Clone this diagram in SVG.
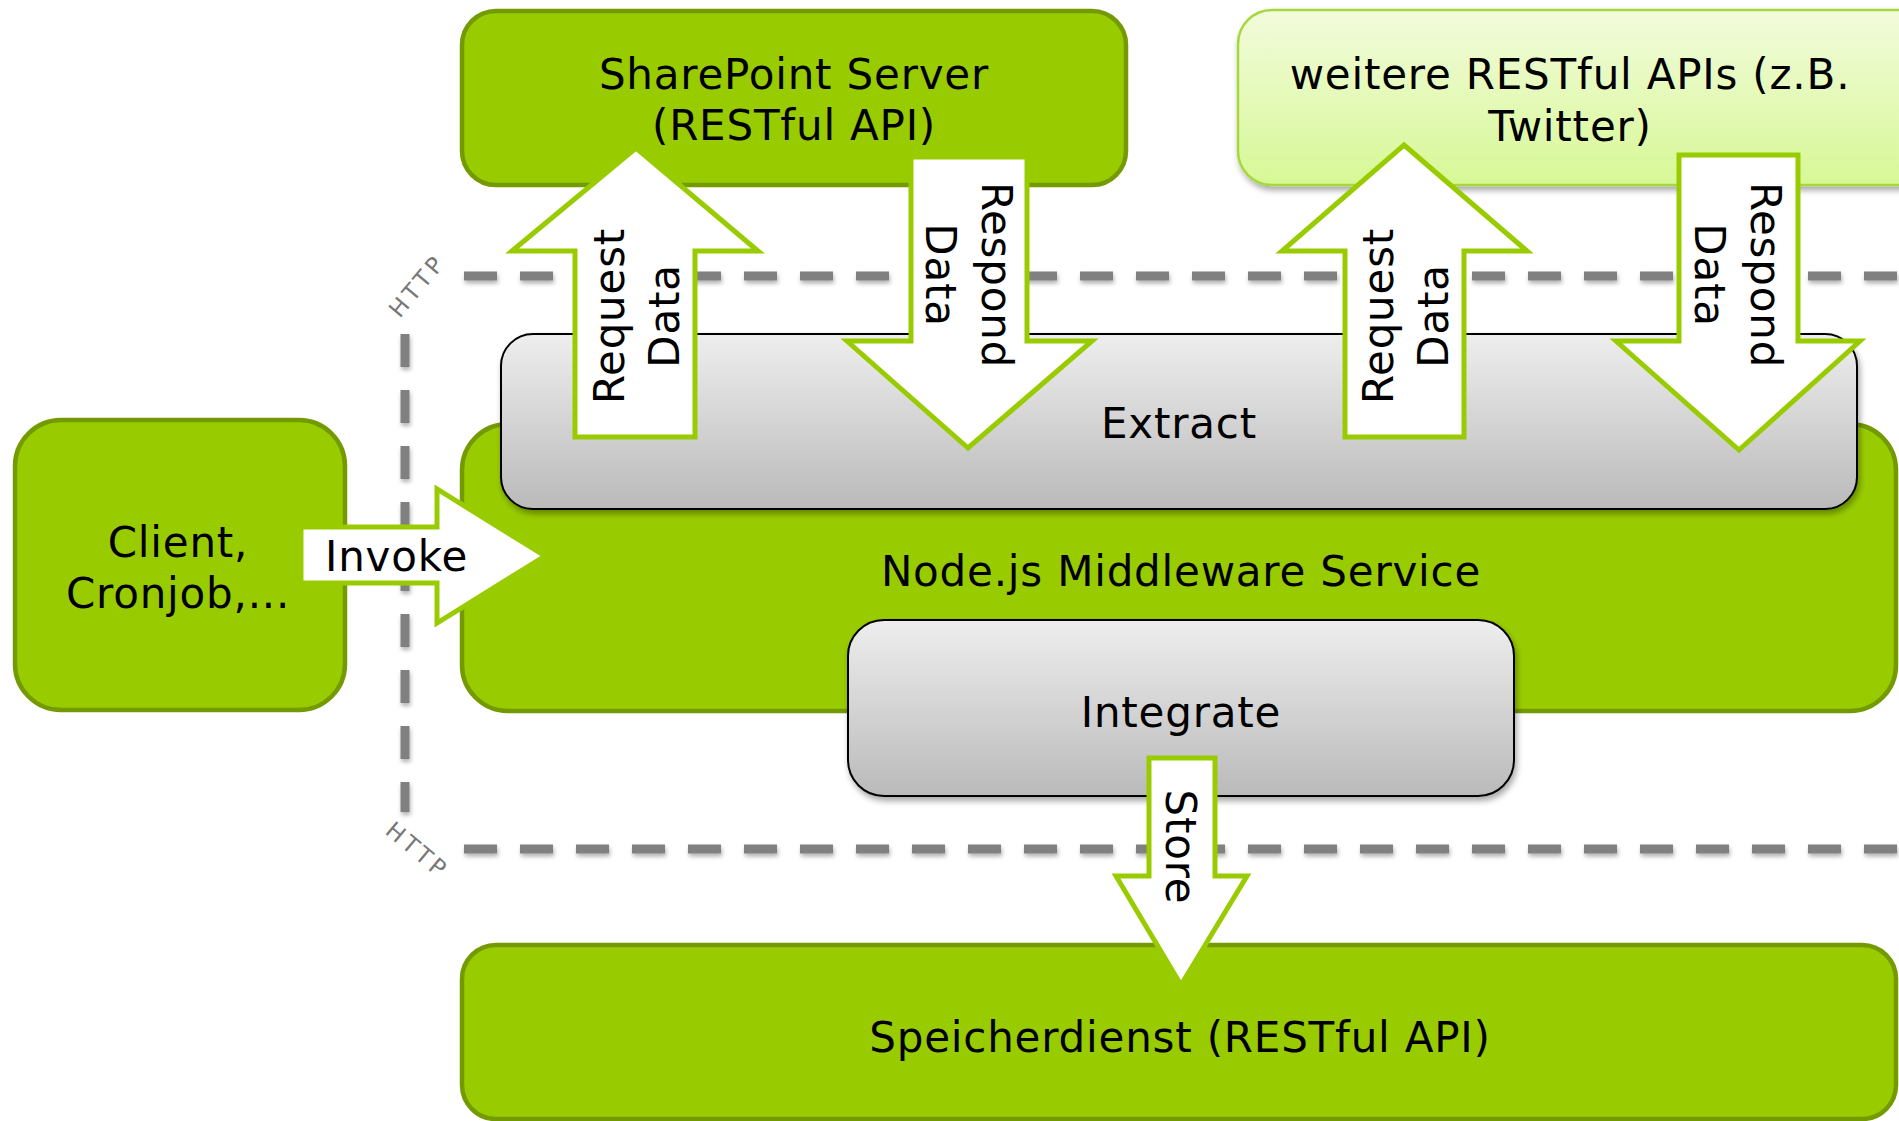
<svg xmlns="http://www.w3.org/2000/svg" width="1899" height="1121" viewBox="0 0 1899 1121">
  <defs>
    <linearGradient id="grayGrad" x1="0" y1="0" x2="0" y2="1">
      <stop offset="0" stop-color="#eeeeee"/>
      <stop offset="1" stop-color="#bababa"/>
    </linearGradient>
    <linearGradient id="lightGrad" x1="0" y1="0" x2="0" y2="1">
      <stop offset="0" stop-color="#f2fbdc"/>
      <stop offset="1" stop-color="#d7f896"/>
    </linearGradient>
    <filter id="shadow" x="-10%" y="-10%" width="130%" height="140%">
      <feDropShadow dx="2" dy="4" stdDeviation="3" flood-color="#000" flood-opacity="0.35"/>
    </filter>
    <filter id="lineShadow" x="-5%" y="-50%" width="110%" height="300%">
      <feDropShadow dx="1" dy="3" stdDeviation="2" flood-color="#000" flood-opacity="0.3"/>
    </filter>
  </defs>
  <style>
    .green { fill: #99cc00; stroke: #739a00; stroke-width: 4.5; }
    .light { fill: url(#lightGrad); stroke: #a6d83c; stroke-width: 2.5; }
    .gray { fill: url(#grayGrad); stroke: #000; stroke-width: 2; }
    .lbl { font-family: "DejaVu Sans", Verdana, sans-serif; font-size: 42px; letter-spacing: 0.8px; fill: #000; text-anchor: middle; }
    .arrow { fill: #ffffff; stroke: #99cc00; stroke-width: 5; stroke-linejoin: miter; }
    .dash { fill: none; stroke: #808080; stroke-width: 9; stroke-dasharray: 33 23; }
    .http { font-family: "DejaVu Sans", Verdana, sans-serif; font-size: 23px; fill: #777777; text-anchor: middle; }
  </style>
  <rect width="1899" height="1121" fill="#ffffff"/>

  <g id="sharepoint">
    <rect class="green" x="462" y="11" width="664" height="174" rx="34"/>
    <text class="lbl" x="794" y="89">SharePoint Server</text>
    <text class="lbl" x="794" y="140">(RESTful API)</text>
  </g>

  <g id="weitere-apis">
    <rect class="light" x="1238" y="10" width="700" height="175" rx="34" filter="url(#shadow)"/>
    <text class="lbl" x="1570" y="89">weitere RESTful APIs (z.B.</text>
    <text class="lbl" x="1570" y="141">Twitter)</text>
  </g>

  <g id="client">
    <rect class="green" x="15" y="420" width="330" height="290" rx="46"/>
    <text class="lbl" x="178" y="557">Client,</text>
    <text class="lbl" x="178" y="608">Cronjob,...</text>
  </g>

  <g id="middleware">
    <rect class="green" x="462" y="424" width="1434" height="287" rx="46"/>
    <text class="lbl" x="1181" y="586">Node.js Middleware Service</text>
  </g>

  <g id="extract">
    <rect class="gray" x="501" y="334" width="1356" height="175" rx="32" filter="url(#shadow)"/>
    <text class="lbl" x="1179" y="438">Extract</text>
  </g>

  <g id="integrate">
    <rect class="gray" x="848" y="620" width="666" height="176" rx="36" filter="url(#shadow)"/>
    <text class="lbl" x="1181" y="727">Integrate</text>
  </g>

  <g id="speicherdienst">
    <rect class="green" x="462" y="945" width="1434" height="174" rx="34"/>
    <text class="lbl" x="1180" y="1052">Speicherdienst (RESTful API)</text>
  </g>

  <g id="http-boundary">
    <g filter="url(#lineShadow)">
      <line class="dash" x1="464" y1="276" x2="1899" y2="276"/>
      <line class="dash" x1="464" y1="849" x2="1899" y2="849"/>
      <line class="dash" x1="405" y1="334" x2="405" y2="812"/>
    </g>
    <text class="http" transform="translate(416,287) rotate(-50)" y="8" textLength="70" lengthAdjust="spacing">HTTP</text>
    <text class="http" transform="translate(416,849) rotate(40)" y="8" textLength="70" lengthAdjust="spacing">HTTP</text>
  </g>

  <g id="connectors">
    <g id="invoke">
      <polygon class="arrow" points="301,527 437,527 437,489 545,556 437,623 437,583 301,583"/>
      <text class="lbl" x="325" y="571" style="text-anchor:start">Invoke</text>
    </g>
    <g id="request-sharepoint">
      <polygon class="arrow" points="636,148 758,251 695,251 695,437 575,437 575,251 512,251"/>
      <g transform="translate(0,316) rotate(-90)">
        <text class="lbl" x="0" y="624">Request</text>
        <text class="lbl" x="0" y="679">Data</text>
      </g>
    </g>
    <g id="respond-sharepoint">
      <polygon class="arrow" points="911,157 1027,157 1027,341 1092,341 968,448 847,341 911,341"/>
      <g transform="translate(0,275) rotate(90)">
        <text class="lbl" x="0" y="-982">Respond</text>
        <text class="lbl" x="0" y="-926">Data</text>
      </g>
    </g>
    <g id="request-weitere">
      <polygon class="arrow" points="1404,145 1527,251 1464,251 1464,437 1345,437 1345,251 1282,251"/>
      <g transform="translate(0,316) rotate(-90)">
        <text class="lbl" x="0" y="1393">Request</text>
        <text class="lbl" x="0" y="1448">Data</text>
      </g>
    </g>
    <g id="respond-weitere">
      <polygon class="arrow" points="1679,155 1798,155 1798,341 1860,341 1739,450 1616,341 1679,341"/>
      <g transform="translate(0,275) rotate(90)">
        <text class="lbl" x="0" y="-1751">Respond</text>
        <text class="lbl" x="0" y="-1695">Data</text>
      </g>
    </g>
    <g id="store">
      <polygon class="arrow" points="1149,758 1215,758 1215,876 1247,876 1181,985 1116,876 1149,876"/>
      <text class="lbl" transform="translate(0,847) rotate(90)" x="0" y="-1166">Store</text>
    </g>
  </g>
</svg>
